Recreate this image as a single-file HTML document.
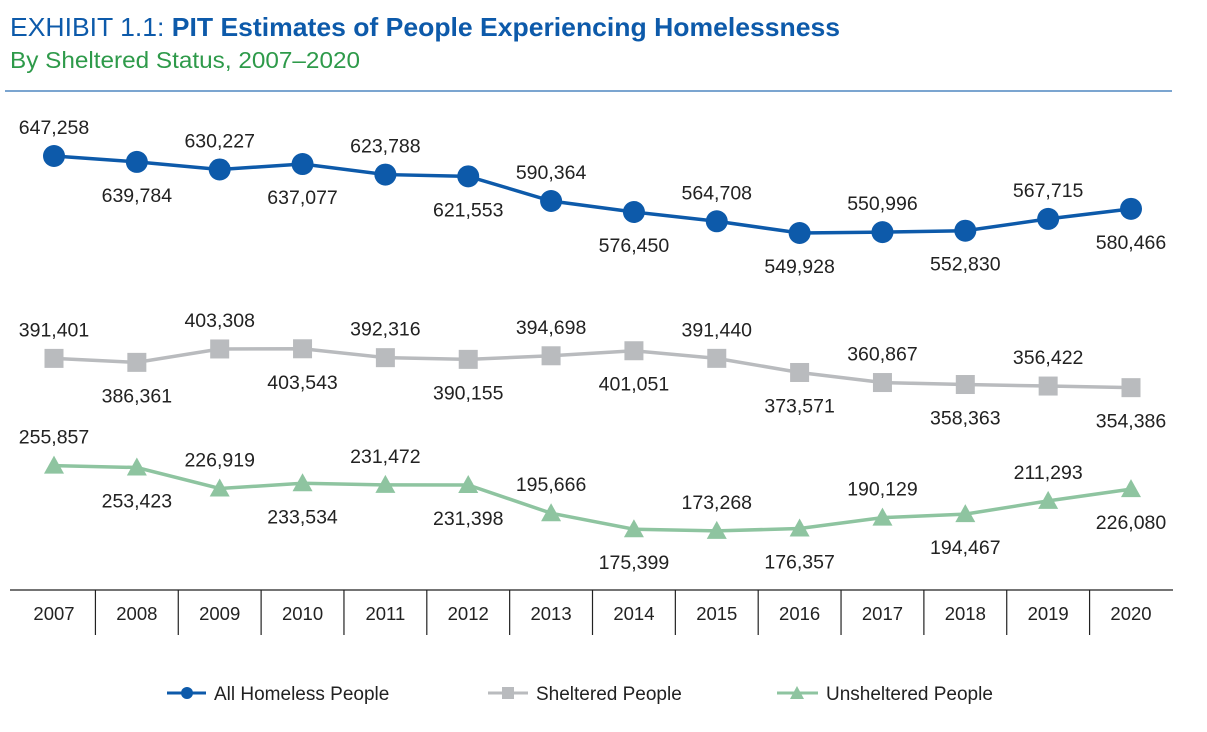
<!DOCTYPE html>
<html><head><meta charset="utf-8"><style>
body{margin:0;background:#fff;width:1207px;height:727px;overflow:hidden;font-family:"Liberation Sans",sans-serif}
</style></head><body>
<svg width="1207" height="727" font-family="Liberation Sans, sans-serif">
<text x="10" y="36" font-size="26" fill="#0d5aaa" textLength="830" lengthAdjust="spacingAndGlyphs">EXHIBIT 1.1: <tspan font-weight="bold">PIT Estimates of People Experiencing Homelessness</tspan></text>
<text x="10" y="68" font-size="23" fill="#2e9a4a" textLength="350" lengthAdjust="spacingAndGlyphs">By Sheltered Status, 2007–2020</text>
<line x1="5" y1="91" x2="1172" y2="91" stroke="#2c6fb5" stroke-width="1.2"/>
<g id="plot"></g>
<g>
<g><line x1="167" y1="693" x2="206" y2="693" stroke="#0d5aaa" stroke-width="3"/><circle cx="187" cy="693" r="6" fill="#0d5aaa"/><text x="214" y="700" font-size="19" fill="#222">All Homeless People</text></g>
<g><line x1="488" y1="693" x2="528" y2="693" stroke="#b9bbbe" stroke-width="3"/><rect x="502" y="687" width="12" height="12" fill="#b9bbbe"/><text x="536" y="700" font-size="19" fill="#222">Sheltered People</text></g>
<g><line x1="777" y1="693" x2="818" y2="693" stroke="#8ec4a0" stroke-width="3"/><polygon points="797,686 804,699 790,699" fill="#8ec4a0"/><text x="826" y="700" font-size="19" fill="#222">Unsheltered People</text></g>
</g>
</svg>
<script>
const years=[2007,2008,2009,2010,2011,2012,2013,2014,2015,2016,2017,2018,2019,2020];
const allHomeless=[647258,639784,630227,637077,623788,621553,590364,576450,564708,549928,550996,552830,567715,580466];
const sheltered=[391401,386361,403308,403543,392316,390155,394698,401051,391440,373571,360867,358363,356422,354386];
const unsheltered=[255857,253423,226919,233534,231472,231398,195666,175399,173268,176357,190129,194467,211293,226080];
const NS='http://www.w3.org/2000/svg';
const plot=document.getElementById('plot');
function xS(i){return 54+i*(1131-54)/13;}
function yS(v){return 156+(647258-v)*0.000791;}
function mk(t,a){const e=document.createElementNS(NS,t);for(const k in a)e.setAttribute(k,a[k]);plot.appendChild(e);return e;}
const ax=mk('line',{x1:10,y1:590,x2:1173,y2:590,stroke:'#222','stroke-width':1.2});


years.forEach((y,i)=>{
  if(i>0){const s=mk('line',{x1:(xS(i)+xS(i-1))/2,y1:590,x2:(xS(i)+xS(i-1))/2,y2:635,stroke:'#222','stroke-width':1.2});
  
  }
  const t=mk('text',{x:xS(i),y:620,'font-size':18.5,'text-anchor':'middle',fill:'#222'});t.textContent=y;
  
  
});
function series(vals,color,shape,name){
  const pl=mk('polyline',{points:vals.map((v,i)=>xS(i)+','+yS(v)).join(' '),fill:'none',stroke:color,'stroke-width':3.5});
  
  
  vals.forEach((v,i)=>{
    const x=xS(i),y=yS(v);let m;
    if(shape==='c')m=mk('circle',{cx:x,cy:y,r:11,fill:color});
    else if(shape==='s')m=mk('rect',{x:x-9.5,y:y-9.5,width:19,height:19,fill:color});
    else m=mk('polygon',{points:`${x},${y-10} ${x+10},${y+8} ${x-10},${y+8}`,fill:color});
    
    
    const t=mk('text',{x:x,y:i%2===0?y-22:y+40,'font-size':19.5,'text-anchor':'middle',fill:'#222'});
    t.textContent=v.toLocaleString('en-US');
    
    
  });
}
series(allHomeless,'#0d5aaa','c','all-homeless');
series(sheltered,'#b9bbbe','s','sheltered');
series(unsheltered,'#8ec4a0','t','unsheltered');
</script>
</body></html>
